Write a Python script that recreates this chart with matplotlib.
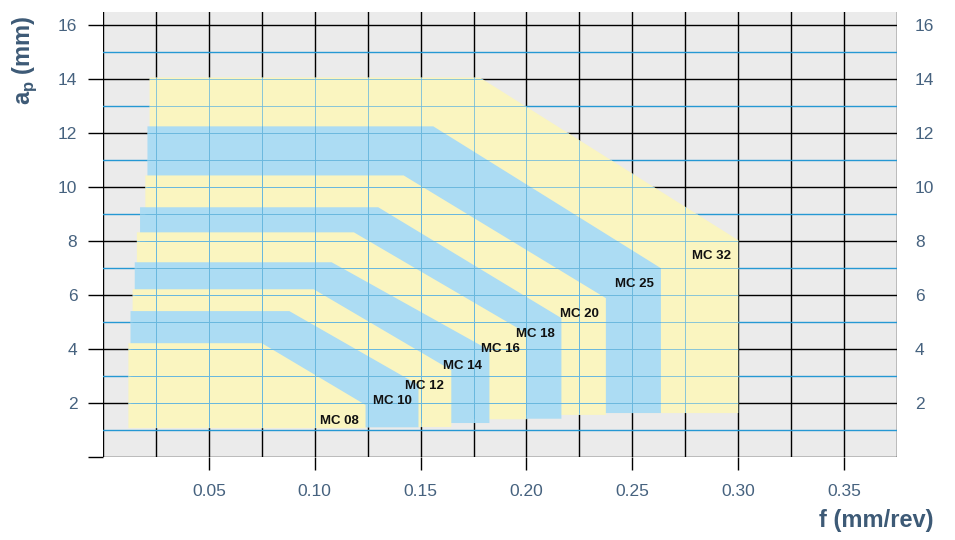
import numpy as np
import matplotlib
matplotlib.use("Agg")
import matplotlib.pyplot as plt
from matplotlib.patches import Polygon
from matplotlib.collections import LineCollection

plt.rcParams['font.family'] = ['Liberation Sans', 'DejaVu Sans']

# Application areas per insert size (outermost first)
sizes = ['MC 32', 'MC 25', 'MC 20', 'MC 18', 'MC 16', 'MC 14', 'MC 12', 'MC 10', 'MC 08']
f_min = [0.022, 0.021, 0.020, 0.0175, 0.016, 0.015, 0.014, 0.013, 0.012]
ap_max = [14.07, 12.26, 10.44, 9.26, 8.33, 7.22, 6.22, 5.41, 4.22]
f_knee = [0.178, 0.156, 0.142, 0.130, 0.1185, 0.108, 0.0995, 0.088, 0.075]
f_max = [0.300, 0.2635, 0.2375, 0.2165, 0.200, 0.1825, 0.1645, 0.149, 0.124]
ap_corner = [8.04, 7.0, 5.89, 5.15, 4.59, 3.96, 3.22, 2.67, 1.93]
ap_min = [1.63, 1.63, 1.56, 1.42, 1.40, 1.26, 1.11, 1.10, 1.07]

x_ticks = [0.05, 0.10, 0.15, 0.20, 0.25, 0.30, 0.35]
x_labels = ['0.05', '0.10', '0.15', '0.20', '0.25', '0.30', '0.35']
y_ticks = [0, 2, 4, 6, 8, 10, 12, 14, 16]
y_labels = ['', '2', '4', '6', '8', '10', '12', '14', '16']

YELLOW = '#faf5c0'
BLUE = '#acdcf3'
GRID_IN = '#6ab8de'
ODD_BLUE = '#2598d3'
TXT = '#46627f'

fig = plt.figure(figsize=(9.55, 5.4), dpi=100)
ax = fig.add_axes([103 / 955, 1 - 457 / 540, 794 / 955, 445 / 540])
ax.set_facecolor('#ebebeb')
ax.set_xlim(0, 0.375)
ax.set_ylim(0, 16.5)
for s in ax.spines.values():
    s.set_visible(False)

xs = np.arange(0, 0.3751, 0.025)
for x in xs:
    ax.axvline(x, color='black', lw=1.0, zorder=1)
for y in range(0, 17, 2):
    ax.axhline(y, color='black', lw=1.0, zorder=1)
for y in range(1, 16, 2):
    ax.axhline(y, color=ODD_BLUE, lw=1.0, zorder=1)

# thin grid inside the coloured areas
segs = [[(x, 0), (x, 16.5)] for x in xs] + [[(0, y), (0.375, y)] for y in range(0, 17)]

for i, name in enumerate(sizes):
    pts = [(f_min[i], ap_min[i]), (f_min[i], ap_max[i]), (f_knee[i], ap_max[i]),
           (f_max[i], ap_corner[i]), (f_max[i], ap_min[i])]
    poly = Polygon(pts, closed=True, facecolor=YELLOW if i % 2 == 0 else BLUE,
                   edgecolor='none', zorder=2 + i * 0.01)
    ax.add_patch(poly)
    lc = LineCollection(segs, colors=GRID_IN, linewidths=0.55, zorder=3)
    ax.add_collection(lc)
    lc.set_clip_path(poly)

for i, name in enumerate(sizes):
    ax.annotate(name, (f_max[i], ap_corner[i]), xytext=(-7, -10),
                textcoords='offset pixels', ha='right', va='top',
                fontsize=9.5, fontweight='bold', color='#111111', zorder=5)

ax.set_xticks(x_ticks)
ax.set_xticklabels(x_labels)
ax.set_yticks(y_ticks)
ax.set_yticklabels(y_labels)
ax.tick_params(axis='x', length=9.5, width=1.0, color='black', pad=10,
               labelsize=12.5, labelcolor=TXT)
ax.tick_params(axis='y', length=10.5, width=1.0, color='black', pad=8,
               labelsize=12.5, labelcolor=TXT)

ax2 = ax.twinx()
ax2.set_ylim(0, 16.5)
ax2.set_yticks(y_ticks)
ax2.set_yticklabels(y_labels)
ax2.tick_params(axis='y', length=0, pad=13, labelsize=12.5, labelcolor=TXT)
for s in ax2.spines.values():
    s.set_visible(False)

fig.text(933 / 955, 1 - 521 / 540, 'f (mm/rev)', ha='right', va='center',
         fontsize=17, fontweight='bold', color='#3d5a76')
fig.text(25 / 955, 1 - 60 / 540, r'a$_\mathregular{p}$ (mm)', ha='center', va='center',
         rotation=90, fontsize=17, fontweight='bold', color='#3d5a76')

fig.savefig('out.png', dpi=100)
